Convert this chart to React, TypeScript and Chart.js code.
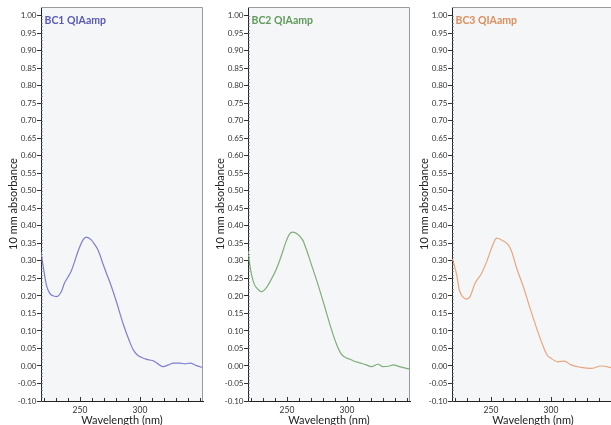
import React, { useEffect, useRef } from "react";
import { Chart, registerables } from "chart.js";

Chart.register(...registerables);

const FONT = "Lato, 'Open Sans', sans-serif";
Chart.defaults.font.family = FONT;

const X_MIN = 217.5;
const X_MAX = 352.5;
const Y_MIN = -0.1;
const Y_MAX = 1.025;

const xTickValues = [250, 300];
const xMinorTickValues = [220, 230, 240, 250, 260, 270, 280, 290, 300, 310, 320, 330, 340, 350];
const yTickValues = [
  -0.1, -0.05, 0.0, 0.05, 0.1, 0.15, 0.2, 0.25, 0.3, 0.35, 0.4, 0.45, 0.5, 0.55, 0.6, 0.65, 0.7,
  0.75, 0.8, 0.85, 0.9, 0.95, 1.0,
];

const bc1Wavelength = [
  217.5, 220, 222, 224.7, 227, 230.3, 234.4, 237, 240, 242.8, 245.5, 248.3, 252.5, 255.3, 259.4,
  262, 265, 269, 272, 274.7, 280.3, 285.8, 291.4, 294.4, 298.6, 301, 305.6, 308, 311, 315, 319.4,
  323.6, 327.8, 333.3, 337.5, 341.7, 347, 352.5,
];
const bc1Absorbance = [
  0.325, 0.27, 0.231, 0.208, 0.201, 0.198, 0.212, 0.236, 0.254, 0.272, 0.298, 0.327, 0.36, 0.368,
  0.36, 0.348, 0.331, 0.293, 0.265, 0.241, 0.184, 0.122, 0.069, 0.046, 0.029, 0.025, 0.019, 0.017,
  0.015, 0.006, -0.002, 0.003, 0.008, 0.008, 0.006, 0.008, 0.001, -0.005,
];

const bc2Wavelength = [
  217.5, 218.6, 220.5, 222.8, 225.5, 228.8, 232.5, 236.7, 240.8, 245, 249.2, 251.9, 254.7, 258.9,
  263, 265.8, 270, 275.5, 281, 286.7, 291.5, 295.3, 299.4, 302, 305, 310.5, 316, 320.3, 325.8, 330,
  335.5, 338.3, 343.8, 352.5,
];
const bc2Absorbance = [
  0.331, 0.298, 0.26, 0.233, 0.22, 0.212, 0.222, 0.246, 0.274, 0.312, 0.355, 0.376, 0.382, 0.376,
  0.36, 0.336, 0.293, 0.236, 0.174, 0.108, 0.06, 0.034, 0.023, 0.02, 0.015, 0.009, 0.003, -0.002,
  0.005, -0.002, 0.0, 0.003, -0.002, -0.009,
];

const bc3Wavelength = [
  218, 221.4, 223.6, 226.4, 229.7, 232.5, 236.7, 242.2, 246.4, 252, 254.7, 260.3, 264.4, 267.2,
  271.4, 276.9, 282.5, 288, 293.6, 297, 299.2, 305.6, 311, 316.7, 325, 333.3, 341.7, 352.5,
];
const bc3Absorbance = [
  0.305, 0.26, 0.217, 0.198, 0.191, 0.198, 0.236, 0.265, 0.298, 0.35, 0.365, 0.357, 0.346, 0.327,
  0.279, 0.227, 0.165, 0.108, 0.055, 0.03, 0.024, 0.012, 0.014, 0.003, -0.004, -0.007, 0.0, -0.007,
];

type PanelProps = {
  left: number;
  title: string;
  lineColor: string;
  titleColor: string;
  xs: number[];
  ys: number[];
};

const CANVAS_W = 206;
const CANVAS_H = 425;

function Panel({ left, title, lineColor, titleColor, xs, ys }: PanelProps) {
  const ref = useRef<HTMLCanvasElement | null>(null);

  useEffect(() => {
    if (!ref.current) return;
    const decor = {
      id: "decor",
      beforeDraw(chart: any) {
        const { ctx, chartArea } = chart;
        ctx.save();
        ctx.fillStyle = "#f5f6f8";
        ctx.fillRect(chartArea.left, chartArea.top, chartArea.right - chartArea.left, chartArea.bottom - chartArea.top);
        ctx.restore();
      },
      afterDraw(chart: any) {
        const { ctx, chartArea, scales } = chart;
        const { left: l, right: r, top: t, bottom: b } = chartArea;
        ctx.save();
        // frame top / right
        ctx.strokeStyle = "#9a9a9a";
        ctx.lineWidth = 1;
        ctx.beginPath();
        ctx.moveTo(l, t + 0.5);
        ctx.lineTo(r - 0.5, t + 0.5);
        ctx.lineTo(r - 0.5, b);
        ctx.stroke();
        // minor ticks
        ctx.strokeStyle = "#555";
        ctx.beginPath();
        for (let i = -10; i <= 100; i++) {
          const py = Math.round(scales.y.getPixelForValue(i / 100)) + 0.5;
          ctx.moveTo(l, py);
          ctx.lineTo(l + 1.5, py);
        }
        ctx.stroke();
        ctx.strokeStyle = "#333";
        ctx.beginPath();
        for (const v of xMinorTickValues) {
          const px = Math.round(scales.x.getPixelForValue(v)) + 0.5;
          const len = xTickValues.includes(v) ? 4 : 3;
          ctx.moveTo(px, b);
          ctx.lineTo(px, b - len);
        }
        ctx.stroke();
        // panel title
        ctx.fillStyle = titleColor;
        ctx.font = `bold 10.5px ${FONT}`;
        ctx.textBaseline = "middle";
        ctx.textAlign = "left";
        ctx.fillText(title, l + 3.5, t + 13.5);
        ctx.restore();
      },
    };

    const chart = new Chart(ref.current, {
      type: "line",
      data: {
        datasets: [
          {
            data: xs.map((x, i) => ({ x, y: ys[i] })),
            borderColor: lineColor,
            borderWidth: 1.2,
            pointRadius: 0,
            cubicInterpolationMode: "monotone",
            fill: false,
          },
        ],
      },
      options: {
        responsive: false,
        animation: false,
        layout: { padding: { top: 7, right: 3, left: 0, bottom: 0 } },
        plugins: { legend: { display: false }, tooltip: { enabled: false } },
        scales: {
          x: {
            type: "linear",
            min: X_MIN,
            max: X_MAX,
            afterBuildTicks: (s: any) => {
              s.ticks = xTickValues.map((v) => ({ value: v }));
            },
            afterFit: (s: any) => {
              s.height = 24;
            },
            grid: { display: false, drawTicks: false },
            border: { display: true, color: "#222", width: 1 },
            ticks: {
              color: "#333",
              font: { size: 8.5, family: FONT },
              padding: 4,
              maxRotation: 0,
              autoSkip: false,
              callback: (v: any) => String(v),
            },
            title: {
              display: true,
              text: "Wavelength (nm)",
              color: "#222",
              font: { size: 11, family: FONT, lineHeight: 0.75 },
              padding: 0,
            },
          },
          y: {
            type: "linear",
            min: Y_MIN,
            max: Y_MAX,
            afterBuildTicks: (s: any) => {
              s.ticks = yTickValues.map((v) => ({ value: v }));
            },
            afterFit: (s: any) => {
              s.width = 41;
            },
            grid: { display: true, drawOnChartArea: false, drawTicks: true, tickLength: 4, color: "#333" },
            border: { display: true, color: "#222", width: 1 },
            ticks: {
              color: "#333",
              font: { size: 8, family: FONT },
              padding: 0.5,
              autoSkip: false,
              callback: (v: any) => Number(v).toFixed(2),
            },
            title: {
              display: true,
              text: "10 mm absorbance",
              color: "#222",
              font: { size: 11, family: FONT },
              padding: { top: 6.5, bottom: 0 },
            },
          },
        },
      },
      plugins: [decor],
    } as any);
    return () => chart.destroy();
  }, [title, lineColor, titleColor, xs, ys]);

  return (
    <div style={{ position: "absolute", left, top: 0, width: CANVAS_W, height: CANVAS_H }}>
      <canvas ref={ref} width={CANVAS_W} height={CANVAS_H} style={{ display: "block" }} />
    </div>
  );
}

export default function App() {
  return (
    <div
      style={{
        position: "fixed",
        left: 0,
        top: 0,
        width: 611,
        height: 425,
        overflow: "hidden",
        background: "#ffffff",
      }}
    >
      <Panel left={0} title="BC1 QIAamp" lineColor="#7f7fd0" titleColor="#5a5ab4" xs={bc1Wavelength} ys={bc1Absorbance} />
      <Panel left={207} title="BC2 QIAamp" lineColor="#7fae79" titleColor="#5f9a5b" xs={bc2Wavelength} ys={bc2Absorbance} />
      <Panel left={411} title="BC3 QIAamp" lineColor="#e8a67e" titleColor="#dc8e5c" xs={bc3Wavelength} ys={bc3Absorbance} />
    </div>
  );
}
